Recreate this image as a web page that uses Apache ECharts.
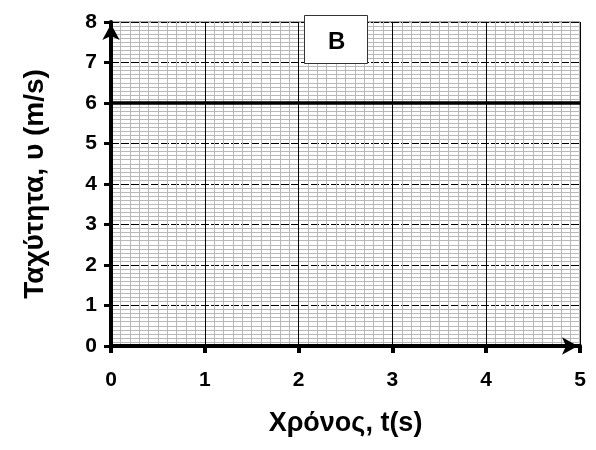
<!DOCTYPE html>
<html>
<head>
<meta charset="utf-8">
<script src="https://cdn.jsdelivr.net/npm/echarts@6/dist/echarts.min.js"></script>
<style>
  html, body { margin: 0; padding: 0; background: #fff; }
  #chart { width: 596px; height: 450px; }
</style>
</head>
<body>
<div id="chart"></div>
<script>
// data
const timeValues = [0, 5];
const speedValues = [6, 6];
const xTicks = [0, 1, 2, 3, 4, 5];
const yTicks = [0, 1, 2, 3, 4, 5, 6, 7, 8];
const panelLabel = "B";

const fontFamily = "'Liberation Sans', Arial, sans-serif";

const myChart = echarts.init(document.getElementById("chart"));

const option = {
  animation: false,
  grid: {
    left: 111,
    right: 16,
    top: 22,
    bottom: 104,
    show: true,
    borderColor: "#555",
    borderWidth: 1,
  },
  xAxis: {
    type: "value",
    min: xTicks[0],
    max: xTicks[xTicks.length - 1],
    interval: 1,
    name: "Χρόνος, t(s)",
    nameLocation: "middle",
    nameGap: 64,
    nameTextStyle: { fontFamily, fontWeight: "bold", fontSize: 27, color: "#000" },
    axisLine: {
      show: true,
      symbol: ["none", "arrow"],
      symbolSize: [13, 16],
      symbolOffset: [0, -2],
      lineStyle: { color: "#000", width: 4 },
    },
    axisTick: { show: true, inside: false, length: 7, lineStyle: { color: "#000", width: 4 } },
    axisLabel: { fontFamily, fontWeight: "bold", fontSize: 21, color: "#000", margin: 24 },
    splitLine: { show: true, lineStyle: { color: "#000", width: 1 } },
    minorTick: { show: false, splitNumber: 10 },
    minorSplitLine: { show: true, lineStyle: { color: "#b8b8b8", width: 1 } },
  },
  yAxis: {
    type: "value",
    min: yTicks[0],
    max: yTicks[yTicks.length - 1],
    interval: 1,
    name: "Ταχύτητα, υ (m/s)",
    nameLocation: "middle",
    nameGap: 62,
    nameTextStyle: { fontFamily, fontWeight: "bold", fontSize: 28, color: "#000" },
    axisLine: {
      show: true,
      symbol: ["none", "arrow"],
      symbolSize: [13, 16],
      symbolOffset: [0, -2],
      lineStyle: { color: "#000", width: 4 },
    },
    axisTick: { show: true, inside: false, length: 7, lineStyle: { color: "#000", width: 3 } },
    axisLabel: { fontFamily, fontWeight: "bold", fontSize: 21, color: "#000", margin: 14 },
    splitLine: { show: true, lineStyle: { color: "#000", width: 1, type: [8, 2] } },
    minorTick: { show: false, splitNumber: 10 },
    minorSplitLine: { show: true, lineStyle: { color: "#b8b8b8", width: 1 } },
  },
  graphic: [
    {
      type: "rect",
      left: 304,
      top: 15,
      z: 100,
      shape: { x: 0, y: 0, width: 63, height: 48 },
      style: { fill: "#fff", stroke: "#333", lineWidth: 1 },
    },
    {
      type: "text",
      left: 328,
      top: 30,
      z: 101,
      style: {
        text: panelLabel,
        font: "bold 24px 'Liberation Sans', Arial, sans-serif",
        fill: "#000",
      },
    },
  ],
  series: [
    {
      type: "line",
      data: timeValues.map((t, i) => [t, speedValues[i]]),
      symbol: "none",
      lineStyle: { color: "#000", width: 3.5 },
      z: 5,
    },
  ],
};

option && myChart.setOption(option, true);
</script>
</body>
</html>
